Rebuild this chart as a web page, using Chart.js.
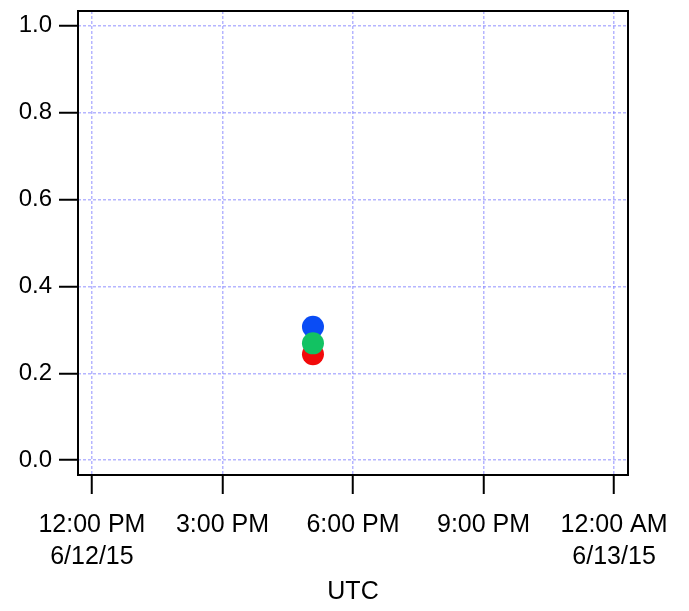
<!DOCTYPE html>
<html lang="en">
<head>
  <meta charset="UTF-8">
  <title>UTC</title>
  <script src="https://cdn.jsdelivr.net/npm/chart.js"></script>
  <style>
    html, body { margin: 0; padding: 0; background: #fff; }
    #wrap { width: 689px; height: 611px; }
  </style>
</head>
<body>
  <div id="wrap"><canvas id="chart"></canvas></div>

  <script>
    // hours since 6/12/15 00:00 UTC
    const xTicks = [12, 15, 18, 21, 24];
    const xTickLabels = [['12:00 PM', '6/12/15'], ['3:00 PM'], ['6:00 PM'], ['9:00 PM'], ['12:00 AM', '6/13/15']];
    const yTicks = [0, 0.2, 0.4, 0.6, 0.8, 1.0];

    const seriesNames = ['blue', 'red', 'green'];
    const seriesColors = ['#0a4cf5', '#f20a0a', '#12c262'];
    const pointTime = [17.08, 17.08, 17.08];
    const pointValues = [0.307, 0.244, 0.269];

    const FONT = "'Liberation Sans', Arial, sans-serif";

    const boxPlugin = {
      id: 'box',
      afterDraw(chart) {
        const a = chart.chartArea, c = chart.ctx;
        c.save();
        c.strokeStyle = '#000';
        c.lineWidth = 2;
        c.strokeRect(a.left, a.top, a.right - a.left, a.bottom - a.top);
        c.restore();
      }
    };

    const gridOpts = {
      color: 'rgba(120, 120, 255, 0.55)',
      lineWidth: 1.5,
      tickLength: 19,
      tickColor: '#000',
      tickWidth: 2,
      tickBorderDash: []
    };

    new Chart(document.getElementById('chart'), {
      type: 'scatter',
      data: {
        datasets: seriesNames.map((name, i) => ({
          label: name,
          data: [{ x: pointTime[i], y: pointValues[i] }],
          backgroundColor: seriesColors[i],
          borderColor: seriesColors[i],
          borderWidth: 0,
          pointRadius: 11,
          order: seriesNames.length - i
        }))
      },
      options: {
        responsive: true,
        maintainAspectRatio: false,
        animation: false,
        layout: { padding: { top: 7, right: 61, left: 0, bottom: 0 } },
        plugins: {
          legend: { display: false },
          tooltip: { enabled: false }
        },
        scales: {
          x: {
            type: 'linear',
            min: 11.68,
            max: 24.32,
            afterBuildTicks: s => { s.ticks = xTicks.map(v => ({ value: v })); },
            afterFit: s => { s.height = 136; s.paddingLeft = 0; s.paddingRight = 0; },
            grid: gridOpts,
            border: { display: false, dash: [3, 2] },
            ticks: {
              autoSkip: false,
              maxRotation: 0,
              padding: 15,
              color: '#000',
              font: { family: FONT, size: 25, lineHeight: 1.28 },
              callback: (v, i) => xTickLabels[i]
            },
            title: {
              display: true,
              text: 'UTC',
              color: '#000',
              font: { family: FONT, size: 25 },
              padding: { top: 4, bottom: 4 }
            }
          },
          y: {
            min: -0.034,
            max: 1.034,
            afterBuildTicks: s => { s.ticks = yTicks.map(v => ({ value: v })); },
            afterFit: s => { s.width = 78; s.paddingTop = 0; s.paddingBottom = 0; },
            grid: gridOpts,
            border: { display: false, dash: [3, 2] },
            ticks: {
              padding: 7,
              color: '#000',
              font: { family: FONT, size: 24 },
              callback: v => v.toFixed(1)
            }
          }
        }
      },
      plugins: [boxPlugin]
    });
  </script>
</body>
</html>
